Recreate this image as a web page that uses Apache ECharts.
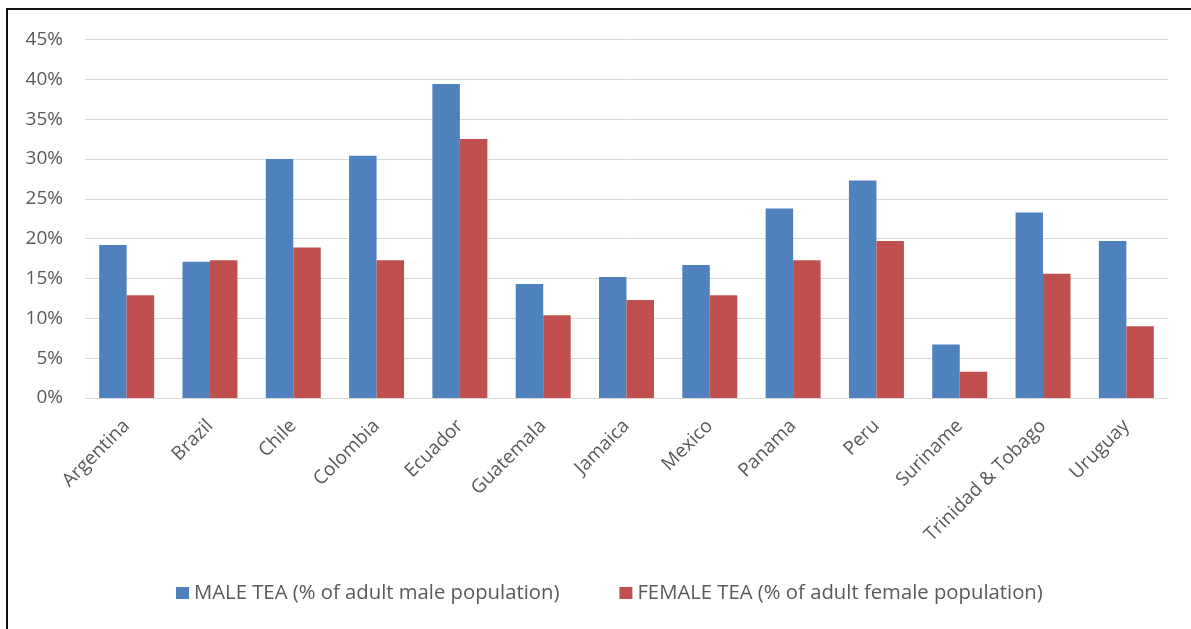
<!DOCTYPE html>
<html>
<head>
<meta charset="utf-8">
<script src="https://cdn.jsdelivr.net/npm/echarts@6/dist/echarts.min.js"></script>
<style>
  html, body { margin: 0; padding: 0; background: #fff; overflow: hidden; }
  #frame { position: absolute; left: 6px; top: 8px; width: 1190px; height: 640px;
           border: 2px solid #111; box-sizing: border-box; }
  #chart { position: absolute; left: 0; top: 0; width: 1191px; height: 629px; }
</style>
</head>
<body>
<div id="frame"></div>
<div id="chart"></div>
<script>
// Countries on the category axis
const countries = ['Argentina', 'Brazil', 'Chile', 'Colombia', 'Ecuador', 'Guatemala',
  'Jamaica', 'Mexico', 'Panama', 'Peru', 'Suriname', 'Trinidad & Tobago', 'Uruguay'];

// Total early-stage entrepreneurial activity, % of adult population
const maleTEA = [19.2, 17.1, 30.0, 30.4, 39.4, 14.3, 15.2, 16.7, 23.8, 27.3, 6.7, 23.3, 19.7];
const femaleTEA = [12.9, 17.3, 18.9, 17.3, 32.5, 10.4, 12.3, 12.9, 17.3, 19.7, 3.3, 15.6, 9.0];

const seriesNames = ['MALE TEA (% of adult male population)', 'FEMALE TEA (% of adult female population)'];

// Value axis ticks (percent)
const yMin = 0, yMax = 45, yStep = 5;

const textColor = '#595959';
const fontFamily = '"Open Sans", "Noto Sans", sans-serif';

const chart = echarts.init(document.getElementById('chart'), null, { renderer: 'canvas' });
chart.setOption({
  backgroundColor: 'transparent',
  animation: false,
  textStyle: { fontFamily: fontFamily },
  grid: { left: 85, right: 23, top: 39.5, bottom: 231, containLabel: false },
  legend: {
    top: 578,
    left: 171,
    itemWidth: 13,
    itemHeight: 12,
    itemGap: 60,
    icon: 'rect',
    textStyle: { color: textColor, fontSize: 20.3, fontFamily: fontFamily },
    data: seriesNames
  },
  xAxis: {
    type: 'category',
    data: countries,
    axisLine: { show: true, lineStyle: { color: '#d9d9d9', width: 1 } },
    axisTick: { show: false },
    axisLabel: {
      rotate: 45,
      interval: 0,
      margin: 25,
      color: textColor,
      fontSize: 19,
      fontFamily: fontFamily
    }
  },
  yAxis: {
    type: 'value',
    min: yMin,
    max: yMax,
    interval: yStep,
    axisLine: { show: false },
    axisTick: { show: false },
    splitLine: { lineStyle: { color: '#d9d9d9', width: 1 } },
    axisLabel: {
      formatter: '{value}%',
      margin: 22,
      color: textColor,
      fontSize: 19,
      fontFamily: fontFamily
    }
  },
  series: [
    {
      name: seriesNames[0],
      type: 'bar',
      data: maleTEA,
      barGap: '0%',
      barCategoryGap: '34%',
      itemStyle: { color: '#4F81BD' }
    },
    {
      name: seriesNames[1],
      type: 'bar',
      data: femaleTEA,
      barGap: '0%',
      barCategoryGap: '34%',
      itemStyle: { color: '#C0504D' }
    }
  ]
});
</script>
</body>
</html>
